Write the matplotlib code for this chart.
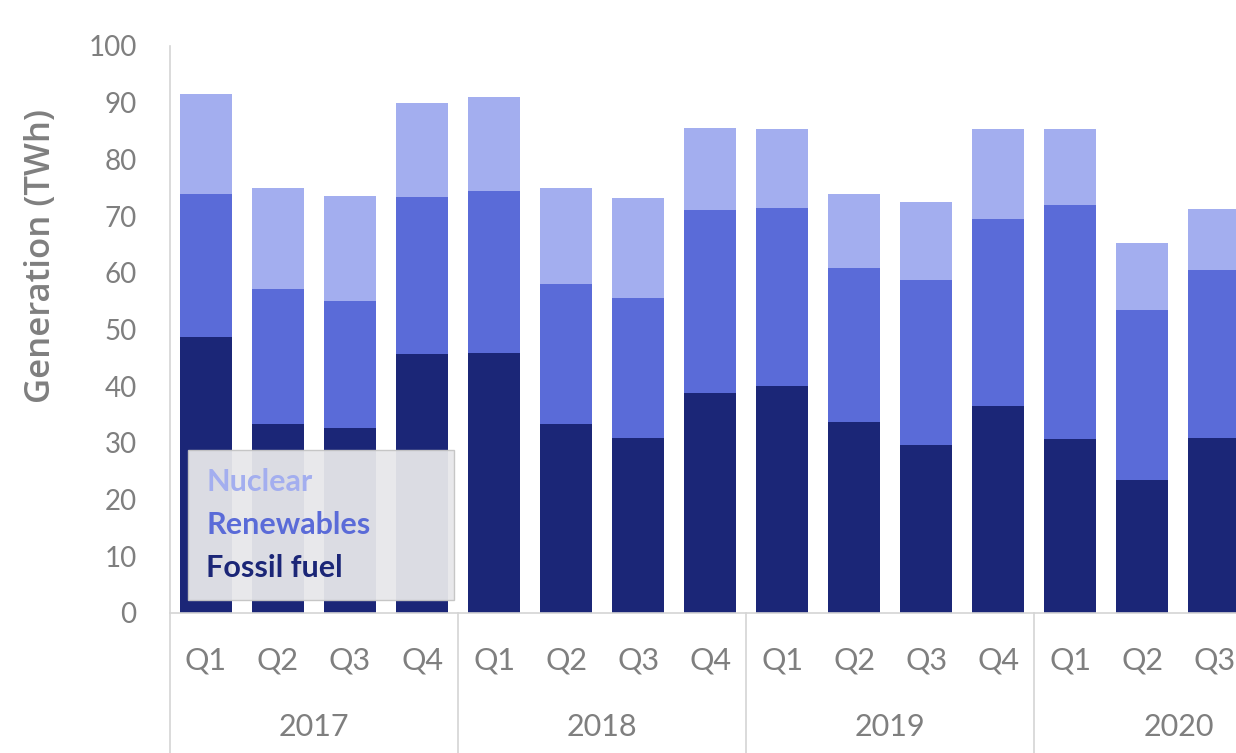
import numpy as np
import matplotlib
matplotlib.use("Agg")
import matplotlib.pyplot as plt
import matplotlib.transforms as mtransforms
from matplotlib.patches import Patch

plt.rcParams["font.family"] = ["Lato", "DejaVu Sans"]

years = ["2017", "2018", "2019", "2020"]
quarters = ["Q1", "Q2", "Q3", "Q4", "Q1", "Q2", "Q3", "Q4",
            "Q1", "Q2", "Q3", "Q4", "Q1", "Q2", "Q3"]

# TWh per quarter, stacked bottom to top
fossil = [48.6, 33.3, 32.6, 45.6, 45.8, 33.3, 30.9, 38.8,
          40.0, 33.7, 29.6, 36.5, 30.7, 23.5, 30.9]
renewables = [25.3, 23.9, 22.5, 27.7, 28.6, 24.8, 24.7, 32.3,
              31.4, 27.2, 29.2, 33.0, 41.2, 30.0, 29.5]
nuclear = [17.7, 17.7, 18.4, 16.7, 16.6, 16.8, 17.6, 14.5,
           13.9, 13.0, 13.7, 15.8, 13.4, 11.8, 10.8]

c_fossil = "#1b2677"
c_renew = "#5a6bd8"
c_nuc = "#a3aeef"
grey = "#7f7f7f"
line_grey = "#d4d4d4"

fig = plt.figure(figsize=(12.36, 7.53), dpi=100)
ax = fig.add_axes([0.1375, 0.186, 0.8625, 0.753])

x = np.arange(len(quarters))
w = 0.72
ax.bar(x, fossil, w, color=c_fossil, label="Fossil fuel")
ax.bar(x, renewables, w, bottom=fossil, color=c_renew, label="Renewables")
ax.bar(x, nuclear, w, bottom=np.add(fossil, renewables), color=c_nuc, label="Nuclear")

ax.set_xlim(-0.5, 14.3)
ax.set_ylim(0, 100)
ax.set_yticks(range(0, 101, 10))
ax.tick_params(axis="y", length=0, pad=24, labelsize=20, labelcolor=grey)
ax.set_xticks([])

for s in ["top", "right", "left"]:
    ax.spines[s].set_visible(False)
ax.spines["bottom"].set_color(line_grey)
ax.spines["bottom"].set_linewidth(1.2)

trans = mtransforms.blended_transform_factory(ax.transData, ax.transAxes)
# vertical separators between years, reaching down through the labels
for sep in [-0.5, 3.5, 7.5, 11.5]:
    ax.plot([sep, sep], [1.0 if sep == -0.5 else 0.0, -0.25], transform=trans,
            color=line_grey, lw=1.2, clip_on=False)

for xi, q in zip(x, quarters):
    ax.text(xi, -0.083, q, transform=trans, ha="center", va="center",
            fontsize=22, color=grey)
for i, yr in enumerate(years):
    ax.text(4 * i + 1.5, -0.201, yr, transform=trans, ha="center", va="center",
            fontsize=22, color=grey)

ax.set_ylabel("Generation (TWh)", family=["Open Sans", "DejaVu Sans"],
              fontsize=25, fontweight="semibold", color=grey)
ax.yaxis.set_label_coords(-0.105, 0.63)

handles = [Patch(visible=False) for _ in range(3)]
leg = ax.legend(handles, ["Nuclear", "Renewables", "Fossil fuel"],
                loc="lower left", bbox_to_anchor=(0.017, 0.023, 0.249, 0.27),
                mode="expand", borderaxespad=0, handlelength=0, handletextpad=0,
                prop={"size": 22, "weight": "bold"}, labelspacing=0.48,
                borderpad=0.6, fancybox=False, framealpha=0.95,
                facecolor="#e7e7ea", edgecolor="#c4c4c4")
for t, c in zip(leg.get_texts(), [c_nuc, c_renew, c_fossil]):
    t.set_color(c)

fig.savefig("out.png", dpi=100)
